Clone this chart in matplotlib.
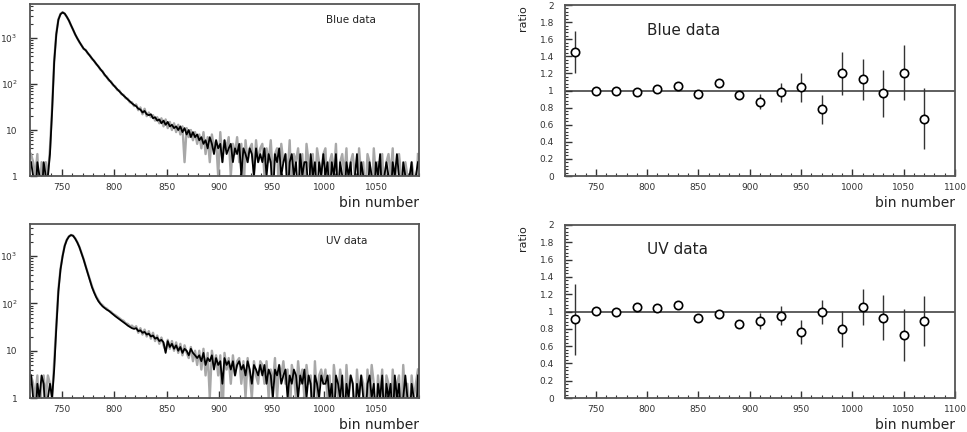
import numpy as np
import matplotlib
matplotlib.use("Agg")
import matplotlib.pyplot as plt
from matplotlib.ticker import MultipleLocator, FixedLocator, LogLocator, NullFormatter

# ---------------- data ----------------
bin_edges_start = 720
bin_width = 2
n_bins = 185

blue_black = [2,1,0,2,1,0,2,1,1,
              3,25,300,1200,2500,3300,3600,3400,2900,2400,1900,1500,1200,980,820,690,590,
              540,470,410,360,315,275,240,210,185,160,140,124,110,97,86,77,69,62,56,51,46,42,38,35,
              33,29,28,24,26,22,21,22,18,19,16,17,14,16,13,15,12,13,11,12,10,12,9,11,8,10,7,9,7,8,
              6,7,5,6,4,7,5,3,6,4,5,2,6,3,4,5,2,4,3,5,1,4,3,2,4,3,1,4,2,3,
              2,4,1,3,2,0,3,2,4,1,2,3,0,2,3,1,2,0,3,1,2,2,0,3,1,2,0,2,1,3,
              1,2,0,2,1,3,0,2,1,0,2,1,2,0,1,3,0,2,1,1,0,2,1,0,2,1,3,0,1,2,
              1,0,2,1,3,1,0,2,1,0,1,2,0,1,2]
blue_grey = [3,2,1,3,0,2,1,2,1,
             4,30,320,1250,2550,3350,3650,3380,2880,2420,1880,1520,1190,990,810,700,580,
             550,460,420,350,320,270,245,205,190,155,145,120,114,94,89,74,72,60,58,49,48,40,40,33,
             36,27,31,22,29,20,24,19,21,16,19,14,18,12,17,11,15,10,14,9,13,8,12,2,11,7,10,6,9,5,
             8,4,9,3,7,2,8,4,6,1,9,2,6,4,7,1,5,3,7,2,5,0,6,2,4,5,1,6,2,4,
             5,1,4,2,6,1,3,4,0,5,2,3,1,6,0,3,2,4,1,3,0,5,2,1,3,0,4,2,1,3,
             4,0,2,3,1,5,0,2,3,1,4,0,2,3,1,0,4,1,2,0,3,2,0,4,1,2,1,3,0,2,
             3,1,4,0,2,3,1,0,2,1,0,2,1,0,3]
uv_black = [3,1,0,2,1,3,2,0,1,2,1,
            4,30,180,520,1000,1650,2200,2600,2800,2700,2350,1950,1550,1150,850,600,430,310,220,170,
            135,112,98,87,80,74,70,64,59,54,
            50,46,43,40,37,34,32,30,29,
            30,26,27,24,25,22,23,20,21,18,19,16,17,15,9,16,12,14,11,13,10,12,9,11,10,8,11,9,8,7,
            8,6,9,5,7,6,8,4,7,5,6,2,7,5,6,4,6,3,5,6,4,5,3,6,4,2,5,4,3,5,
            3,5,2,4,3,1,4,3,5,2,3,4,1,3,2,4,3,1,3,2,4,1,3,2,0,3,2,1,3,2,
            2,3,1,2,0,3,2,1,3,0,2,1,3,2,0,2,1,3,1,0,2,3,1,2,0,2,1,3,0,2,
            1,2,0,3,1,2,0,1,3,1,0,2,1,0,3]
uv_grey = [3,2,1,3,0,2,3,1,3,2,1,
           6,35,200,540,1020,1680,2230,2620,2820,2720,2380,1980,1570,1170,870,610,440,320,230,175,
           140,118,100,92,82,78,70,67,60,57,
           53,49,45,43,38,37,33,34,30,
           33,24,30,22,28,20,26,18,24,16,21,14,19,13,10,17,11,16,10,15,9,14,8,13,9,7,12,6,10,5,
           10,4,11,3,9,1,10,5,8,3,8,0,9,4,7,2,8,3,6,7,2,6,1,7,3,1,6,3,2,6,
           5,2,6,1,4,2,7,1,5,3,6,2,4,0,5,3,1,6,2,4,1,5,2,3,0,6,1,3,4,2,
           4,1,3,0,5,2,1,4,2,0,5,1,3,2,0,4,1,3,2,0,4,1,5,2,0,3,1,4,0,3,
           2,0,4,1,2,3,0,5,1,2,0,3,1,2,4]

ratio_x = [730,750,770,790,810,830,850,870,890,910,930,950,970,990,1010,1030,1050,1070]
blue_ratio = [1.45,1.00,0.99,0.985,1.02,1.05,0.96,1.09,0.95,0.87,0.98,1.04,0.78,1.20,1.13,0.965,1.21,0.67]
blue_err = [0.25,0.02,0.02,0.02,0.02,0.03,0.03,0.03,0.04,0.09,0.11,0.17,0.17,0.25,0.24,0.27,0.32,0.36]
uv_ratio = [0.91,1.01,0.99,1.05,1.04,1.07,0.93,0.97,0.855,0.89,0.95,0.76,0.99,0.80,1.05,0.93,0.73,0.89]
uv_err = [0.41,0.02,0.02,0.02,0.02,0.03,0.03,0.03,0.03,0.09,0.11,0.14,0.14,0.21,0.21,0.26,0.30,0.29]

labels = ["Blue data", "UV data"]

# ---------------- figure ----------------
W, H = 967, 432
fig = plt.figure(figsize=(W/100, H/100), dpi=100)
plt.rcParams['font.family'] = ['DejaVu Sans']

def fr(x0, y0, x1, y1):
    return [x0/W, 1 - y1/H, (x1-x0)/W, (y1-y0)/H]

ax_lt = fig.add_axes(fr(30, 4, 419, 176))
ax_lb = fig.add_axes(fr(30, 224, 419, 398))
ax_rt = fig.add_axes(fr(565, 5, 955, 176))
ax_rb = fig.add_axes(fr(565, 225, 955, 398))

centers = bin_edges_start + bin_width*(np.arange(n_bins) + 0.5)
spine_col = '#555555'
tick_col = '#333333'

def style(ax):
    for s in ax.spines.values():
        s.set_color(spine_col)
        s.set_linewidth(1.3)
    ax.tick_params(which='both', direction='in', top=False, right=False,
                   colors=tick_col, labelcolor=tick_col, labelsize=6.5)
    ax.tick_params(which='major', length=5, width=1)
    ax.tick_params(which='minor', length=2.5, width=0.8)
    ax.set_xlabel('bin number', loc='right', fontsize=10, color='#222222', labelpad=3)

for ax, blk, gry, lab in [(ax_lt, blue_black, blue_grey, labels[0]),
                          (ax_lb, uv_black, uv_grey, labels[1])]:
    g = np.clip(np.array(gry, float), 0.3, None)
    b = np.clip(np.array(blk, float), 0.3, None)
    ax.plot(centers, g, color='#a8a8a8', linewidth=1.7)
    ax.plot(centers, b, color='black', linewidth=1.3)
    ax.set_yscale('log')
    ax.set_xlim(720, 1090)
    ax.set_ylim(1, 5500)
    ax.xaxis.set_major_locator(MultipleLocator(50))
    ax.xaxis.set_minor_locator(MultipleLocator(10))
    ax.yaxis.set_major_locator(FixedLocator([1, 10, 100, 1000]))
    ax.set_yticklabels(['1', '10', r'$10^2$', r'$10^3$'])
    ax.yaxis.set_minor_locator(LogLocator(base=10, subs=np.arange(2, 10)))
    ax.yaxis.set_minor_formatter(NullFormatter())
    style(ax)
    ax.tick_params(axis='y', pad=9)
    ax.tick_params(axis='x', pad=5)
    ax.text(0.762, 0.905, lab, transform=ax.transAxes, fontsize=7.5,
            color='#222222', va='center', ha='left')

ax_lb.set_ylim(1, 4800)

for ax, yv, ye, lab, ty in [(ax_rt, blue_ratio, blue_err, labels[0], 0.848),
                            (ax_rb, uv_ratio, uv_err, labels[1], 0.861)]:
    ax.axhline(1.0, color='#333333', linewidth=1.1, zorder=1)
    ax.errorbar(ratio_x, yv, yerr=ye, fmt='o', color='#222222', ecolor='#333333',
                elinewidth=1.0, capsize=0, markersize=6, markerfacecolor='white',
                markeredgecolor='black', markeredgewidth=1.2, zorder=3)
    ax.set_xlim(720, 1100)
    ax.set_ylim(0, 2)
    ax.xaxis.set_major_locator(MultipleLocator(50))
    ax.xaxis.set_minor_locator(MultipleLocator(10))
    ax.yaxis.set_minor_locator(MultipleLocator(0.04))
    ax.set_yticks(np.arange(0, 2.01, 0.2))
    ax.set_yticklabels(['0', '0.2', '0.4', '0.6', '0.8', '1', '1.2', '1.4', '1.6', '1.8', '2'])
    style(ax)
    ax.tick_params(axis='y', pad=8)
    ax.tick_params(axis='x', pad=5)
    ax.set_ylabel('ratio', loc='top', fontsize=8, color='#222222', labelpad=8)
    ax.text(0.21, ty, lab, transform=ax.transAxes, fontsize=11,
            color='#222222', va='center', ha='left')

fig.savefig('out.png', dpi=100)
